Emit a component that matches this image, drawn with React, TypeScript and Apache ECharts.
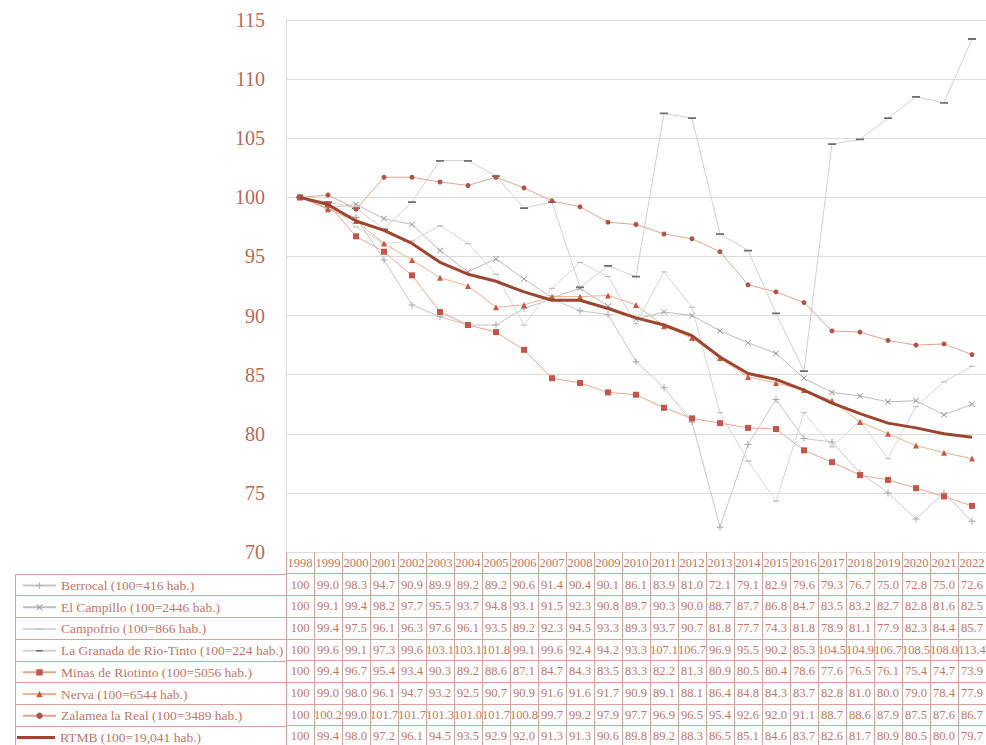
import React, { useEffect, useRef } from 'react';
import * as echarts from 'echarts';

const years = ['1998','1999','2000','2001','2002','2003','2004','2005','2006','2007','2008','2009','2010','2011','2012','2013','2014','2015','2016','2017','2018','2019','2020','2021','2022'];

const names = [
  'Berrocal (100=416 hab.)',
  'El Campillo (100=2446 bab.)',
  'Campofrio (100=866 hab.)',
  'La Granada de Rio-Tinto (100=224 hab.)',
  'Minas de Riotinto (100=5056 hab.)',
  'Nerva (100=6544 hab.)',
  'Zalamea la Real (100=3489 hab.)',
  'RTMB (100=19,041 hab.)',
];

const berrocal = [100, 99.0, 98.3, 94.7, 90.9, 89.9, 89.2, 89.2, 90.6, 91.4, 90.4, 90.1, 86.1, 83.9, 81.0, 72.1, 79.1, 82.9, 79.6, 79.3, 76.7, 75.0, 72.8, 75.0, 72.6];
const elCampillo = [100, 99.1, 99.4, 98.2, 97.7, 95.5, 93.7, 94.8, 93.1, 91.5, 92.3, 90.8, 89.7, 90.3, 90.0, 88.7, 87.7, 86.8, 84.7, 83.5, 83.2, 82.7, 82.8, 81.6, 82.5];
const campofrio = [100, 99.4, 97.5, 96.1, 96.3, 97.6, 96.1, 93.5, 89.2, 92.3, 94.5, 93.3, 89.3, 93.7, 90.7, 81.8, 77.7, 74.3, 81.8, 78.9, 81.1, 77.9, 82.3, 84.4, 85.7];
const laGranada = [100, 99.6, 99.1, 97.3, 99.6, 103.1, 103.1, 101.8, 99.1, 99.6, 92.4, 94.2, 93.3, 107.1, 106.7, 96.9, 95.5, 90.2, 85.3, 104.5, 104.9, 106.7, 108.5, 108.0, 113.4];
const minas = [100, 99.4, 96.7, 95.4, 93.4, 90.3, 89.2, 88.6, 87.1, 84.7, 84.3, 83.5, 83.3, 82.2, 81.3, 80.9, 80.5, 80.4, 78.6, 77.6, 76.5, 76.1, 75.4, 74.7, 73.9];
const nerva = [100, 99.0, 98.0, 96.1, 94.7, 93.2, 92.5, 90.7, 90.9, 91.6, 91.6, 91.7, 90.9, 89.1, 88.1, 86.4, 84.8, 84.3, 83.7, 82.8, 81.0, 80.0, 79.0, 78.4, 77.9];
const zalamea = [100, 100.2, 99.0, 101.7, 101.7, 101.3, 101.0, 101.7, 100.8, 99.7, 99.2, 97.9, 97.7, 96.9, 96.5, 95.4, 92.6, 92.0, 91.1, 88.7, 88.6, 87.9, 87.5, 87.6, 86.7];
const rtmb = [100, 99.4, 98.0, 97.2, 96.1, 94.5, 93.5, 92.9, 92.0, 91.3, 91.3, 90.6, 89.8, 89.2, 88.3, 86.5, 85.1, 84.6, 83.7, 82.6, 81.7, 80.9, 80.5, 80.0, 79.7];

const rows = [berrocal, elCampillo, campofrio, laGranada, minas, nerva, zalamea, rtmb];

const yMin = 70;
const yMax = 115;
const yStep = 5;

const FONT = "'Liberation Serif', 'DejaVu Serif', serif";
const TEXT = '#c27664';
const BORDER = '#d9a29b';
const GRID = '#dcdcdc';

const plusPath = 'path://M0,4.3h10v1.4h-10Z M4.3,0h1.4v10h-1.4Z';
const xPath = 'path://M1,0L5,4L9,0L10,1L6,5L10,9L9,10L5,6L1,10L0,9L4,5L0,1Z';
const dashPath = 'path://M0,0h0.01v0.01h-0.01Z M9.99,9.99h0.01v0.01h-0.01Z M0,4h10v2.2h-10Z';

const styles = [
  { symbol: plusPath, size: 7, line: '#c6c6c6', mark: '#a8a8a8', width: 1 },
  { symbol: xPath, size: 6, line: '#bdbdbd', mark: '#9a9a9a', width: 1 },
  { symbol: dashPath, size: 6, line: '#d6d6d6', mark: '#c4c4c4', width: 1 },
  { symbol: dashPath, size: 8, line: '#d0d0d0', mark: '#6f6f6f', width: 1 },
  { symbol: 'rect', size: 6, line: '#eba68d', mark: '#c4554a', width: 1 },
  { symbol: 'triangle', size: 6, line: '#efb08e', mark: '#c85a45', width: 1 },
  { symbol: 'circle', size: 5, line: '#dba58f', mark: '#ad5648', width: 1 },
  { symbol: 'none', size: 0, line: '#9c4630', mark: '#9c4630', width: 3 },
];

const fmt = (v: number) => (v === 100 ? '100' : v.toFixed(1));

export default function App() {
  const ref = useRef<HTMLDivElement>(null);
  useEffect(() => {
    const el = ref.current!;
    const chart = echarts.init(el, null, { renderer: 'svg' });

    const gridLeft = 286;
    const gridTop = 20;
    const gridBottomY = 552;
    const H = 745;
    const rowH = 21.7;
    const tableLeft = 15;

    const xAxes: any[] = [];
    xAxes.push({
      type: 'category',
      data: years,
      gridIndex: 0,
      position: 'bottom',
      offset: 0,
      boundaryGap: true,
      axisLine: { show: true, onZero: false, lineStyle: { color: GRID, width: 1 } },
      axisTick: { show: true, interval: 0, length: rowH, lineStyle: { color: BORDER, width: 1 } },
      axisLabel: { interval: 0, margin: rowH / 2, verticalAlign: 'middle', color: TEXT, fontSize: 12.5, fontFamily: FONT },
      splitLine: { show: false },
    });
    rows.forEach((row, k) => {
      xAxes.push({
        type: 'category',
        data: years,
        gridIndex: 0,
        position: 'bottom',
        offset: rowH * (k + 1),
        boundaryGap: true,
        axisLine: { show: true, onZero: false, lineStyle: { color: BORDER, width: 1 } },
        axisTick: { show: true, interval: 0, length: rowH, lineStyle: { color: BORDER, width: 1 } },
        axisLabel: {
          interval: 0,
          margin: rowH / 2,
          verticalAlign: 'middle',
          color: TEXT,
          fontSize: 12.5,
          fontFamily: FONT,
          formatter: (_v: string, i: number) => fmt(row[i]),
        },
        splitLine: { show: false },
      });
    });

    const series = rows.map((row, k) => {
      const s = styles[k];
      return {
        type: 'line',
        name: names[k],
        data: row,
        xAxisIndex: 0,
        yAxisIndex: 0,
        symbol: s.symbol,
        symbolSize: s.size,
        showSymbol: s.symbol !== 'none',
        color: s.mark,
        lineStyle: { color: s.line, width: s.width },
        itemStyle: { color: s.mark },
        z: k === 7 ? 10 : 2 + k,
        emphasis: { disabled: true },
      };
    });

    const legends = names.map((n, k) => ({
      data: [k === 7 ? { name: n, icon: 'path://M0,0h38v3h-38Z' } : { name: n }],
      orient: 'vertical',
      left: k === 7 ? 17 : 22,
      top: gridBottomY + rowH * (k + 1) + rowH / 2 - 6,
      itemWidth: k === 7 ? 38 : 33,
      itemHeight: 8,
      itemGap: 0,
      padding: 0,
      selectedMode: false,
      textStyle: { color: TEXT, fontSize: 13.5, fontFamily: FONT, lineHeight: 8 },
    }));

    const graphics: any[] = [];
    const tableTop = Math.round(gridBottomY + rowH);
    graphics.push({
      type: 'rect',
      shape: { x: tableLeft + 0.5, y: tableTop + 0.5, width: gridLeft - tableLeft, height: rowH * 8 + 4 },
      style: { fill: 'none', stroke: BORDER, lineWidth: 1 },
      silent: true,
    });
    for (let k = 2; k <= 8; k++) {
      const y = Math.round(gridBottomY + rowH * k) + 0.5;
      graphics.push({
        type: 'line',
        shape: { x1: tableLeft, y1: y, x2: gridLeft, y2: y },
        style: { stroke: BORDER, lineWidth: 1 },
        silent: true,
      });
    }

    const option: any = {
      animation: false,
      backgroundColor: '#ffffff',
      grid: {
        left: gridLeft,
        right: 0,
        top: gridTop,
        bottom: H - gridBottomY,
        containLabel: false,
        outerBoundsMode: 'none',
      },
      xAxis: xAxes,
      yAxis: {
        type: 'value',
        min: yMin,
        max: yMax,
        interval: yStep,
        axisLine: { show: true, lineStyle: { color: GRID, width: 1 } },
        axisTick: { show: false },
        axisLabel: { margin: 21, color: '#b56b5b', fontSize: 20, fontFamily: FONT },
        splitLine: { show: true, lineStyle: { color: GRID, width: 1 } },
      },
      legend: legends,
      series,
      graphic: graphics,
      tooltip: { show: false },
    };

    chart.setOption(option);
    return () => chart.dispose();
  }, []);

  return (
    <div
      ref={ref}
      style={{ position: 'absolute', left: 0, top: 0, width: 986, height: 745, background: '#fff' }}
    />
  );
}
